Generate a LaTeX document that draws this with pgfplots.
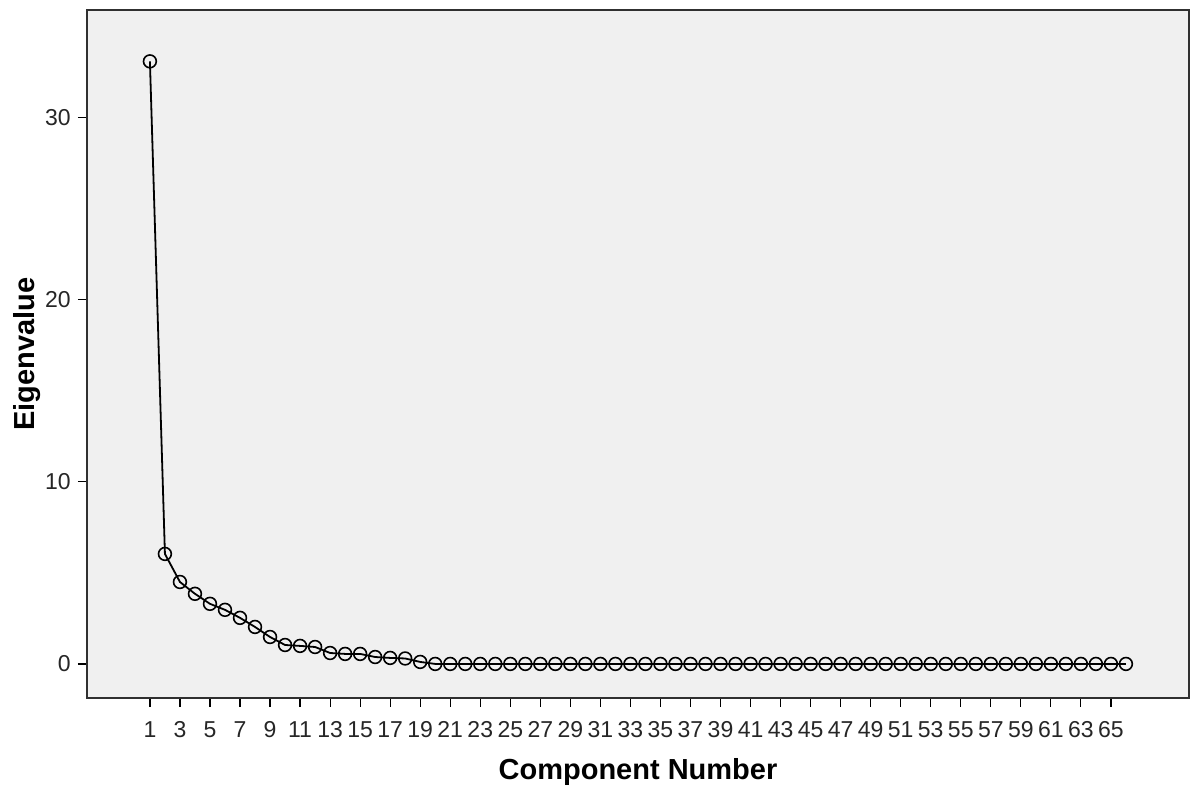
\documentclass[border=0pt]{standalone}
\usepackage{pgfplots}
\pgfplotsset{compat=1.18}
\usepackage{fontspec}
\setmainfont{Liberation Sans}
\definecolor{plotbg}{HTML}{F0F0F0}
\definecolor{frame}{HTML}{303030}
\pgfplotstableread{
x y
1 33.08
2 6.04
3 4.50
4 3.85
5 3.30
6 2.97
7 2.53
8 2.03
9 1.48
10 1.04
11 0.99
12 0.93
13 0.60
14 0.55
15 0.55
16 0.38
17 0.33
18 0.30
19 0.11
20 0.00
21 0.00
22 0.00
23 0.00
24 0.00
25 0.00
26 0.00
27 0.00
28 0.00
29 0.00
30 0.00
31 0.00
32 0.00
33 0.00
34 0.00
35 0.00
36 0.00
37 0.00
38 0.00
39 0.00
40 0.00
41 0.00
42 0.00
43 0.00
44 0.00
45 0.00
46 0.00
47 0.00
48 0.00
49 0.00
50 0.00
51 0.00
52 0.00
53 0.00
54 0.00
55 0.00
56 0.00
57 0.00
58 0.00
59 0.00
60 0.00
61 0.00
62 0.00
63 0.00
64 0.00
65 0.00
66 0.00
}\scree
\begin{document}
\begin{tikzpicture}
\begin{axis}[
  at={(0pt,0pt)}, anchor=south west,
  scale only axis,
  width=551pt, height=344pt,
  xmin=-3.19, xmax=70.2,
  ymin=-1.87, ymax=35.9,
  axis background/.style={fill=plotbg},
  axis line style={draw=frame, line width=1pt},
  xtick={1,3,...,65},
  ytick={0,10,20,30},
  xtick pos=bottom, ytick pos=left,
  tick align=outside,
  major tick length=4.5pt,
  tick style={black, line width=0.6pt},
  /pgf/number format/assume math mode=true,
  ticklabel style={font=\fontsize{11.5}{13}\selectfont, text=black!85},
  xticklabel style={inner sep=0pt, yshift=-7pt},
  yticklabel style={inner sep=0pt, xshift=-3.5pt},
  xlabel={\textbf{Component Number}},
  ylabel={\textbf{Eigenvalue}},
  label style={font=\fontsize{14.5}{16}\selectfont},
  xlabel style={at={(axis description cs:0.5,-0.1076)}, anchor=center},
  ylabel style={at={(axis description cs:-0.0544,0.5)}, anchor=center},
  clip=false,
]
\addplot[black, line width=0.9pt, mark=o, mark size=3.2pt,
  mark options={line width=0.8pt, fill=plotbg}] table[x=x, y=y] {\scree};
\end{axis}
\path[use as bounding box] (-43.5pt,-49pt) rectangle (553pt,349pt);
\end{tikzpicture}
\end{document}
